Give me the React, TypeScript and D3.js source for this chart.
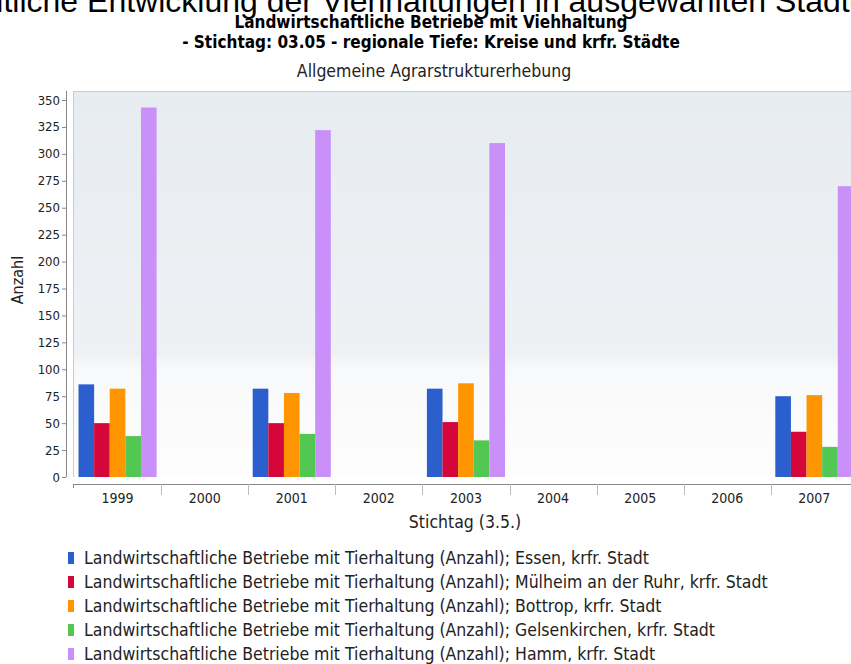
import React from "react";
import * as d3 from "d3";

const years = ["1999", "2000", "2001", "2002", "2003", "2004", "2005", "2006", "2007"];
const seriesNames = [
  "Landwirtschaftliche Betriebe mit Tierhaltung (Anzahl); Essen, krfr. Stadt",
  "Landwirtschaftliche Betriebe mit Tierhaltung (Anzahl); Mülheim an der Ruhr, krfr. Stadt",
  "Landwirtschaftliche Betriebe mit Tierhaltung (Anzahl); Bottrop, krfr. Stadt",
  "Landwirtschaftliche Betriebe mit Tierhaltung (Anzahl); Gelsenkirchen, krfr. Stadt",
  "Landwirtschaftliche Betriebe mit Tierhaltung (Anzahl); Hamm, krfr. Stadt",
];
const essen = [86, null, 82, null, 82, null, null, null, 75];
const muelheim = [50, null, 50, null, 51, null, null, null, 42];
const bottrop = [82, null, 78, null, 87, null, null, null, 76];
const gelsenkirchen = [38, null, 40, null, 34, null, null, null, 28];
const hamm = [343, null, 322, null, 310, null, null, null, 270];
const seriesValues = [essen, muelheim, bottrop, gelsenkirchen, hamm];
const colors = ["#2b5fce", "#d5063a", "#ff9500", "#52c852", "#c890f8"];
const yTicks = [0, 25, 50, 75, 100, 125, 150, 175, 200, 225, 250, 275, 300, 325, 350];

const bigTitle = "Zeitliche Entwicklung der Viehhaltungen in ausgewählten Städten";
const title1 = "Landwirtschaftliche Betriebe mit Viehhaltung";
const title2 = "- Stichtag: 03.05 - regionale Tiefe: Kreise und krfr. Städte";
const subtitle = "Allgemeine Agrarstrukturerhebung";
const yLabel = "Anzahl";
const xLabel = "Stichtag (3.5.)";

const FONT = "'DejaVu Sans Condensed', 'DejaVu Sans', sans-serif";

export default function App() {
  const W = 851;
  const H = 664;
  const plotLeft = 73;
  const plotTop = 91;
  const plotBottom = 477;
  const bandStart = 74;
  const bandW = 87.1;
  const x = d3.scaleBand<string>().domain(years).range([bandStart, bandStart + bandW * years.length]);
  const x1 = d3.scaleBand<number>().domain(d3.range(seriesNames.length)).range([4.5, bandW - 4.5]);
  const y = d3.scaleLinear().domain([0, 350]).range([plotBottom, 100]);
  const axisY = 484;
  const yAxisX = 66;

  return (
    <svg width={W} height={H} style={{ position: "absolute", left: 0, top: 0, background: "#fff" }} fontFamily={FONT}>
      <defs>
        <linearGradient id="bg" x1="0" y1="0" x2="0" y2="1">
          <stop offset="0%" stopColor="#e7ecf1" />
          <stop offset="68%" stopColor="#eef1f4" />
          <stop offset="72%" stopColor="#f8f9fa" />
          <stop offset="100%" stopColor="#fdfdfd" />
        </linearGradient>
      </defs>
      <rect x={0} y={0} width={W} height={H} fill="#ffffff" />
      <text x={-41} y={12} fontFamily="'Liberation Sans', Arial, sans-serif" fontSize={32} fill="#000">
        {bigTitle}
      </text>
      <text x={431} y={28} textAnchor="middle" fontSize={17} fontWeight="bold" fontStretch="condensed" fill="#000">
        {title1}
      </text>
      <text x={431} y={48} textAnchor="middle" fontSize={17} fontWeight="bold" fontStretch="condensed" fill="#000">
        {title2}
      </text>
      <text x={434} y={77} textAnchor="middle" fontSize={17.5} fontStretch="condensed" fill="#222">
        {subtitle}
      </text>

      {/* plot background */}
      <rect x={plotLeft} y={plotTop} width={W - plotLeft} height={plotBottom - plotTop} fill="url(#bg)" />
      <line x1={plotLeft} x2={W} y1={plotTop + 0.5} y2={plotTop + 0.5} stroke="#c9ccd0" />
      <line x1={plotLeft + 0.5} x2={plotLeft + 0.5} y1={plotTop} y2={plotBottom} stroke="#c9ccd0" />

      {/* bars */}
      {seriesValues.map((vals, si) =>
        vals.map((v, i) =>
          v == null ? null : (
            <rect
              key={`${si}-${i}`}
              x={(x(years[i]) as number) + (x1(si) as number)}
              y={y(v)}
              width={x1.bandwidth()}
              height={plotBottom - y(v)}
              fill={colors[si]}
            />
          )
        )
      )}

      {/* y axis */}
      <line x1={yAxisX + 0.5} x2={yAxisX + 0.5} y1={plotTop} y2={plotBottom} stroke="#888" />
      {yTicks.map((t) => (
        <g key={t}>
          <line x1={yAxisX - 4} x2={yAxisX} y1={y(t) + 0.5} y2={y(t) + 0.5} stroke="#888" />
          <text x={60} y={y(t) + 4.5} textAnchor="end" fontSize={13} fill="#222">
            {t}
          </text>
        </g>
      ))}
      <text
        transform={`translate(${23},${280}) rotate(-90)`}
        textAnchor="middle"
        fontSize={16}
        fontStretch="condensed"
        fill="#222"
      >
        {yLabel}
      </text>

      {/* x axis */}
      <line x1={plotLeft} x2={W} y1={axisY + 0.5} y2={axisY + 0.5} stroke="#888" />
      <line x1={plotLeft + 0.5} x2={plotLeft + 0.5} y1={axisY} y2={axisY + 4} stroke="#888" />
      {years.map((yr, i) => (
        <g key={yr}>
          {i > 0 && (
            <line
              x1={Math.round(x(yr) as number) + 0.5}
              x2={Math.round(x(yr) as number) + 0.5}
              y1={axisY}
              y2={axisY + 11}
              stroke="#bbb"
            />
          )}
          <text x={(x(yr) as number) + x.bandwidth() / 2} y={503} textAnchor="middle" fontSize={14} fill="#222">
            {yr}
          </text>
        </g>
      ))}
      <text x={465} y={528} textAnchor="middle" fontSize={17.5} fontStretch="condensed" fill="#222">
        {xLabel}
      </text>

      {/* legend */}
      {seriesNames.map((name, i) => (
        <g key={name}>
          <rect x={68} y={552 + i * 24} width={6} height={12} fill={colors[i]} />
          <text x={84} y={564 + i * 24} fontSize={17.5} fontStretch="condensed" fill="#222">
            {name}
          </text>
        </g>
      ))}
    </svg>
  );
}
